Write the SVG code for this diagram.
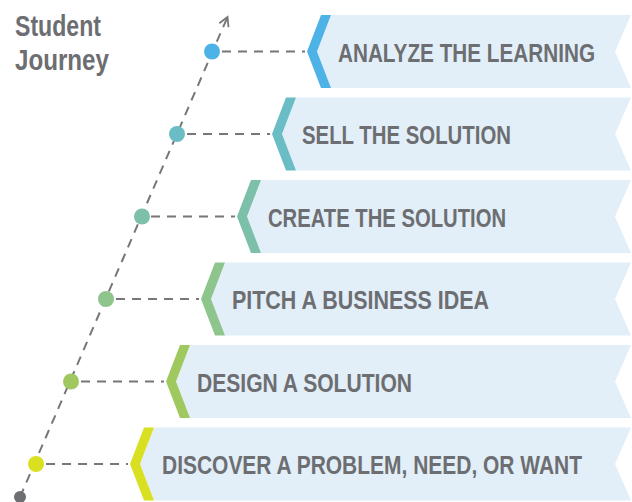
<svg xmlns="http://www.w3.org/2000/svg" width="632" height="502" viewBox="0 0 632 502">
  <style>
    .label { font-family: "Liberation Sans", Arial, sans-serif; font-weight: bold; fill: #6d6e71; }
    .step { font-size: 25px; }
    .title { font-size: 29px; }
    .banner { fill: #e2eff9; }
    .dash { stroke: #77777a; stroke-width: 2; stroke-dasharray: 9 7; fill: none; }
  </style>
  <defs>
    <marker id="openArrow" viewBox="0 0 12 12" refX="10" refY="6" markerWidth="12" markerHeight="12" markerUnits="userSpaceOnUse" orient="auto">
      <path d="M1,1 L10,6 L1,11" fill="none" stroke="#77777a" stroke-width="1.8"/>
    </marker>
  </defs>

  <!-- heading (condensed by horizontal scaling) -->
  <g id="heading">
    <text class="label title" transform="translate(15,35.5) scale(0.8,1)" textLength="107.5" lengthAdjust="spacingAndGlyphs">Student</text>
    <text class="label title" transform="translate(15,69.5) scale(0.8,1)" textLength="117.5" lengthAdjust="spacingAndGlyphs">Journey</text>
  </g>

  <!-- connectors -->
  <g id="connectors">
    <line class="dash" x1="20" y1="497" x2="227.5" y2="17" marker-end="url(#openArrow)"/>
    <line class="dash" x1="222" y1="51.5" x2="305" y2="51.5"/>
    <line class="dash" x1="187" y1="134" x2="270" y2="134"/>
    <line class="dash" x1="151" y1="216.5" x2="235" y2="216.5"/>
    <line class="dash" x1="116" y1="299" x2="199" y2="299"/>
    <line class="dash" x1="81" y1="381.5" x2="164" y2="381.5"/>
    <line class="dash" x1="46" y1="464" x2="128" y2="464"/>
  </g>

  <!-- start point -->
  <g id="start">
    <circle cx="20" cy="497" r="6" fill="#6d6e71"/>
  </g>

  <!-- steps, bottom to top -->
  <g id="step-discover">
    <polygon class="banner" points="140,464 154,427.5 631,427.5 615,464 631,500.5 154,500.5"/>
    <polygon fill="#d9e021" points="130,464 144,427.5 154,427.5 140,464 154,500.5 144,500.5"/>
    <circle cx="36" cy="464" r="8" fill="#d9e021"/>
    <text class="label step" transform="translate(162,474) scale(0.8,1)" textLength="525" lengthAdjust="spacingAndGlyphs">DISCOVER A PROBLEM, NEED, OR WANT</text>
  </g>

  <g id="step-design">
    <polygon class="banner" points="176,381.5 190,345 631,345 615,381.5 631,418 190,418"/>
    <polygon fill="#9fc85f" points="166,381.5 180,345 190,345 176,381.5 190,418 180,418"/>
    <circle cx="71" cy="381.5" r="8" fill="#9fc85f"/>
    <text class="label step" transform="translate(197,391.5) scale(0.8,1)" textLength="268.75" lengthAdjust="spacingAndGlyphs">DESIGN A SOLUTION</text>
  </g>

  <g id="step-pitch">
    <polygon class="banner" points="211,299 225,262.5 631,262.5 615,299 631,335.5 225,335.5"/>
    <polygon fill="#8dc58c" points="201,299 215,262.5 225,262.5 211,299 225,335.5 215,335.5"/>
    <circle cx="106" cy="299" r="8" fill="#8dc58c"/>
    <text class="label step" transform="translate(232,309) scale(0.8,1)" textLength="321.25" lengthAdjust="spacingAndGlyphs">PITCH A BUSINESS IDEA</text>
  </g>

  <g id="step-create">
    <polygon class="banner" points="247,216.5 261,180 631,180 615,216.5 631,253 261,253"/>
    <polygon fill="#7cc0aa" points="237,216.5 251,180 261,180 247,216.5 261,253 251,253"/>
    <circle cx="142" cy="216.5" r="8" fill="#7cc0aa"/>
    <text class="label step" transform="translate(268,226.5) scale(0.8,1)" textLength="297.5" lengthAdjust="spacingAndGlyphs">CREATE THE SOLUTION</text>
  </g>

  <g id="step-sell">
    <polygon class="banner" points="282,134 296,97.5 631,97.5 615,134 631,170.5 296,170.5"/>
    <polygon fill="#6bbdc5" points="272,134 286,97.5 296,97.5 282,134 296,170.5 286,170.5"/>
    <circle cx="177" cy="134" r="8" fill="#6bbdc5"/>
    <text class="label step" transform="translate(302,144) scale(0.8,1)" textLength="261.25" lengthAdjust="spacingAndGlyphs">SELL THE SOLUTION</text>
  </g>

  <g id="step-analyze">
    <polygon class="banner" points="317,51.5 331,15 631,15 615,51.5 631,88 331,88"/>
    <polygon fill="#4db3e7" points="307,51.5 321,15 331,15 317,51.5 331,88 321,88"/>
    <circle cx="212" cy="51.5" r="8" fill="#4db3e7"/>
    <text class="label step" transform="translate(338,61.5) scale(0.8,1)" textLength="321.25" lengthAdjust="spacingAndGlyphs">ANALYZE THE LEARNING</text>
  </g>
</svg>
